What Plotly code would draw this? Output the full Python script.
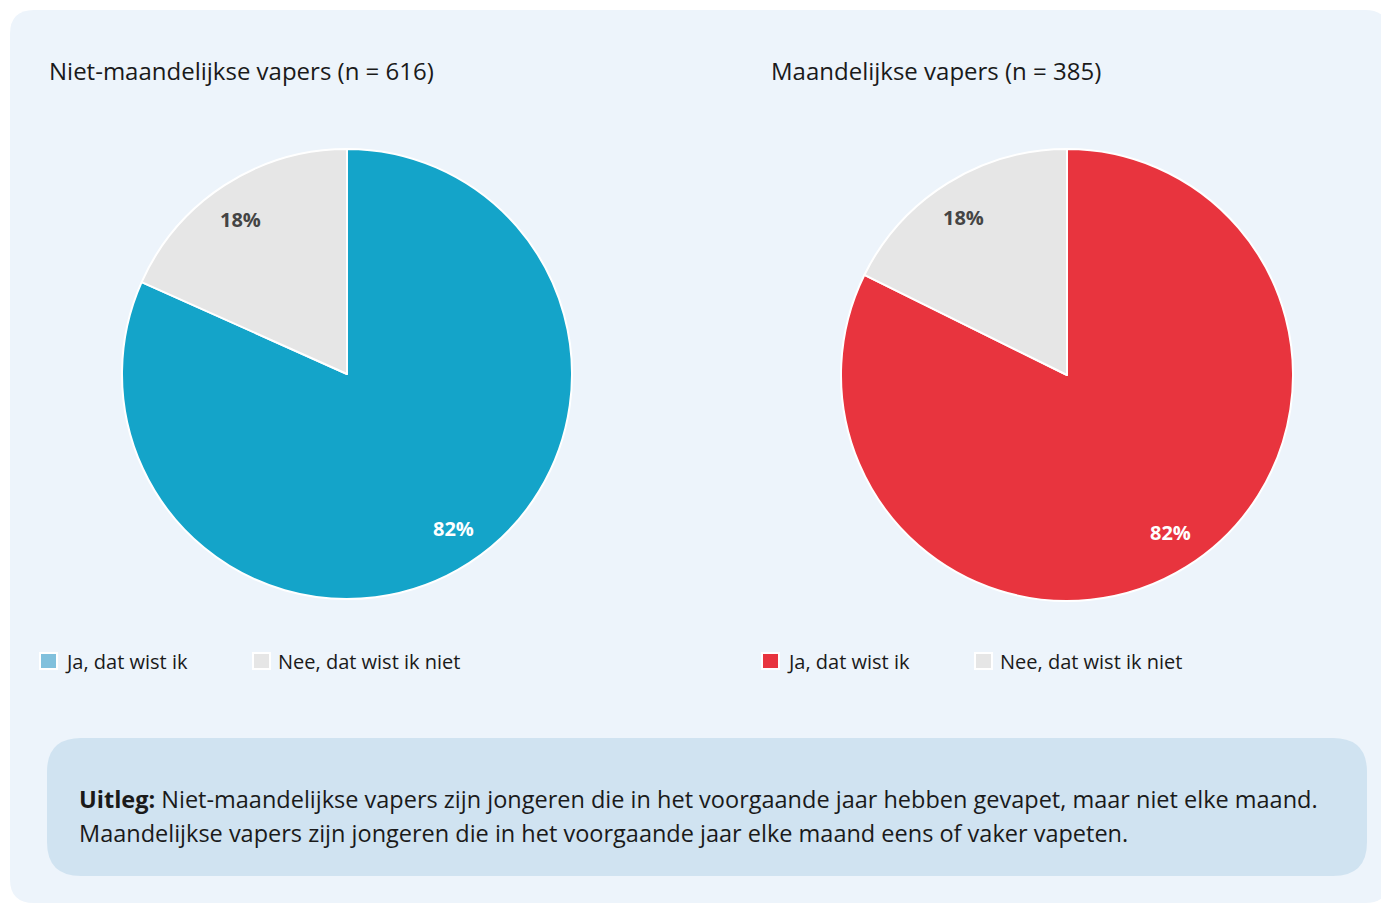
import math
import plotly.graph_objects as go

OFF = 8  # page body margin in the browser
W, H = 1389 - OFF, 904 - OFF

# ---- data ----
labels = ["Ja, dat wist ik", "Nee, dat wist ik niet"]
titles = ["Niet-maandelijkse vapers (n = 616)", "Maandelijkse vapers (n = 385)"]
values_niet = [81.7, 18.3]
values_maand = [82.3, 17.7]
slice_colors_niet = ["#14A4C9", "#E6E6E6"]
slice_colors_maand = ["#E8343E", "#E6E6E6"]
legend_colors_niet = ["#80C0DC", "#E6E6E6"]
legend_colors_maand = ["#E8343E", "#E6E6E6"]
label_text_colors = ["#FFFFFF", "#444444"]
uitleg_line1 = "<b>Uitleg:</b> Niet-maandelijkse vapers zijn jongeren die in het voorgaande jaar hebben gevapet, maar niet elke maand."
uitleg_line2 = "Maandelijkse vapers zijn jongeren die in het voorgaande jaar elke maand eens of vaker vapeten."

FONT = "Open Sans"
TXT = "#1A1A1A"


def px(x):
    return (x - OFF) / W


def py(y):
    return 1 - (y - OFF) / H


def rounded_rect(x0, y0, x1, y1, r):
    X0, X1 = px(x0), px(x1)
    Y0, Y1 = py(y0), py(y1)
    rx, ry = r / W, r / H
    return (
        f"M {X0 + rx},{Y0} L {X1 - rx},{Y0} Q {X1},{Y0} {X1},{Y0 - ry} "
        f"L {X1},{Y1 + ry} Q {X1},{Y1} {X1 - rx},{Y1} "
        f"L {X0 + rx},{Y1} Q {X0},{Y1} {X0},{Y1 + ry} "
        f"L {X0},{Y0 - ry} Q {X0},{Y0} {X0 + rx},{Y0} Z"
    )


fig = go.Figure()

shapes = [
    dict(type="path", xref="paper", yref="paper", path=rounded_rect(10, 10, 1389, 903, 24),
         fillcolor="#EDF4FB", line=dict(width=0), layer="below"),
    dict(type="path", xref="paper", yref="paper", path=rounded_rect(47, 738, 1367, 876, 34),
         fillcolor="#D0E3F1", line=dict(width=0), layer="below"),
]
annotations = []

pies = [
    dict(values=values_niet, colors=slice_colors_niet, leg=legend_colors_niet, title=titles[0],
         cx=347, cy=374, r=225, title_x=47, leg_x=[40, 253]),
    dict(values=values_maand, colors=slice_colors_maand, leg=legend_colors_maand, title=titles[1],
         cx=1067, cy=375, r=226, title_x=769, leg_x=[762, 975]),
]

for p in pies:
    cx, cy, r = p["cx"], p["cy"], p["r"]
    fig.add_trace(go.Pie(
        labels=labels, values=p["values"], sort=False, direction="clockwise", rotation=0,
        marker=dict(colors=p["colors"], line=dict(color="#FFFFFF", width=2)),
        textinfo="none", hoverinfo="label+percent", showlegend=False,
        domain=dict(x=[px(cx - r), px(cx + r)], y=[py(cy + r), py(cy - r)]),
    ))
    total = sum(p["values"])
    start = 0.0
    for i, v in enumerate(p["values"]):
        frac = v / total
        mid = (start + frac / 2) * 2 * math.pi - math.radians(1.5)
        start += frac
        lx = cx + 0.835 * r * math.sin(mid)
        ly = cy - 0.835 * r * math.cos(mid)
        annotations.append(dict(
            x=px(lx), y=py(ly), xref="paper", yref="paper", xanchor="center", yanchor="middle",
            showarrow=False, text=f"<b>{round(frac * 100)}%</b>",
            font=dict(family=FONT, size=20, color=label_text_colors[i]),
        ))
    # title
    annotations.append(dict(
        x=px(p["title_x"]), y=py(70), xref="paper", yref="paper", xanchor="left", yanchor="middle",
        showarrow=False, text=p["title"], font=dict(family=FONT, size=24, color=TXT),
    ))
    # custom legend
    for i, lab in enumerate(labels):
        x0 = p["leg_x"][i]
        shapes.append(dict(type="rect", xref="paper", yref="paper",
                           x0=px(x0), x1=px(x0 + 17), y0=py(669), y1=py(653),
                           fillcolor=p["leg"][i], line=dict(color="#FFFFFF", width=2)))
        annotations.append(dict(
            x=px(x0 + 23), y=py(661), xref="paper", yref="paper", xanchor="left", yanchor="middle",
            showarrow=False, text=lab, font=dict(family=FONT, size=20, color=TXT),
        ))

annotations.append(dict(
    x=px(77), y=py(799), xref="paper", yref="paper", xanchor="left", yanchor="middle",
    showarrow=False, text=uitleg_line1, font=dict(family=FONT, size=23.5, color=TXT),
))
annotations.append(dict(
    x=px(77), y=py(833), xref="paper", yref="paper", xanchor="left", yanchor="middle",
    showarrow=False, text=uitleg_line2, font=dict(family=FONT, size=23.5, color=TXT),
))

fig.update_layout(
    width=W, height=H, margin=dict(l=0, r=0, t=0, b=0),
    paper_bgcolor="#FFFFFF", plot_bgcolor="#FFFFFF",
    shapes=shapes, annotations=annotations, showlegend=False,
    font=dict(family=FONT),
)

fig.write_html("out.html")
